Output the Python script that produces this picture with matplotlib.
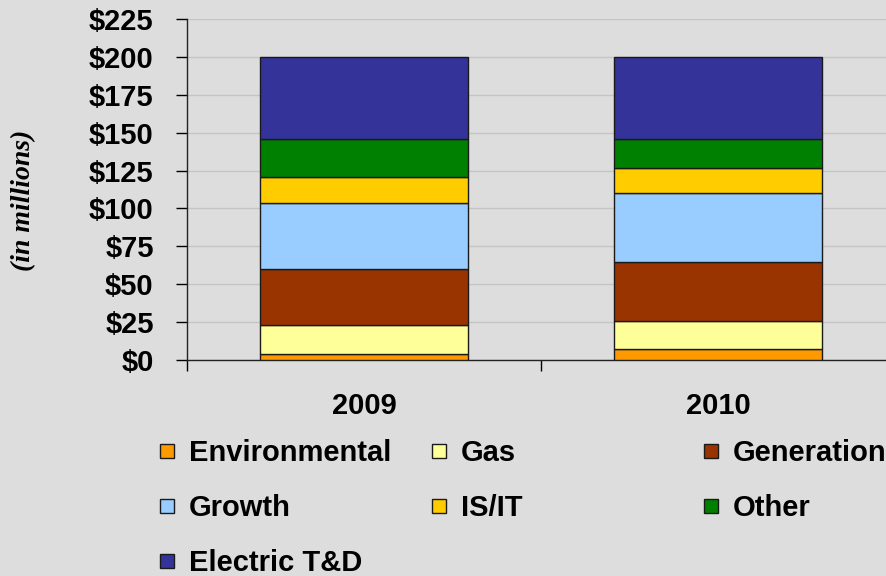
import matplotlib.pyplot as plt
from matplotlib.patches import Rectangle
from matplotlib.ticker import FixedLocator
import numpy as np

# capital spending by category (in millions)
years = ['2009', '2010']
categories = ['Environmental', 'Gas', 'Generation', 'Growth', 'IS/IT', 'Other', 'Electric T&D']
environmental = [4, 7]
gas = [19, 19]
generation = [37, 38.5]
growth = [43.5, 45.5]
is_it = [17, 16.5]
other = [25, 19]
electric_td = [54.5, 54.5]
yticks = np.arange(0, 226, 25)

series = [environmental, gas, generation, growth, is_it, other, electric_td]
colors = ['#FF9900', '#FFFF99', '#993300', '#99CCFF', '#FFCC00', '#008000', '#333399']

plt.rcParams['font.family'] = ['Liberation Sans', 'DejaVu Sans']
plt.rcParams['font.weight'] = 'bold'

bg = '#DDDDDD'
fig = plt.figure(figsize=(8.86, 5.76), dpi=100, facecolor=bg)
ax = fig.add_axes([187/886, 1 - 360/576, 1 - 187/886, (360 - 19)/576])
ax.set_facecolor(bg)

x = np.arange(len(years))
bottom = np.zeros(len(years))
for vals, col, name in zip(series, colors, categories):
    ax.bar(x, vals, width=0.588, bottom=bottom, color=col, edgecolor='#1a1a1a',
           linewidth=1.0, label=name, zorder=3)
    bottom += np.array(vals)

ax.set_ylim(0, 225)
ax.set_xlim(-0.5, -0.5 + 699/354)
ax.set_yticks(yticks)
ax.set_yticklabels(['$%d' % v for v in yticks], fontsize=21, fontweight='bold')
ax.grid(axis='y', color='#C4C4C4', linewidth=1.0, zorder=0)

ax.set_xticks(x)
ax.set_xticklabels(years, fontsize=21, fontweight='bold')
ax.tick_params(axis='x', which='major', length=0, pad=23)
ax.xaxis.set_minor_locator(FixedLocator([-0.5, 0.5, 1.5]))
ax.tick_params(axis='x', which='minor', length=8, width=1, direction='out')
ax.tick_params(axis='y', length=8, width=1, direction='out', pad=16)

for s in ['top', 'right']:
    ax.spines[s].set_visible(False)
for s in ['left', 'bottom']:
    ax.spines[s].set_color('#222222')
    ax.spines[s].set_linewidth(1.0)

fig.text(24/886, 1 - 200/576, '(in millions)', rotation=90, ha='center', va='center',
         fontsize=20, fontweight='bold', style='italic',
         family=['Liberation Serif', 'DejaVu Serif'])

# legend, row-major, fixed column spacing
col_x = [160, 432, 704]
row_y = [451, 506, 561]
for i, (name, col) in enumerate(zip(categories, colors)):
    r, c = divmod(i, 3)
    px, py = col_x[c], row_y[r]
    fig.patches.append(Rectangle((px/886, 1 - (py + 7)/576), 14/886, 14/576,
                                 transform=fig.transFigure, facecolor=col,
                                 edgecolor='#1a1a1a', linewidth=1.0))
    fig.text((px + 29)/886, 1 - (py + 2)/576, name, ha='left', va='center',
             fontsize=21, fontweight='bold')

plt.savefig('out.png', dpi=100, facecolor=bg)
